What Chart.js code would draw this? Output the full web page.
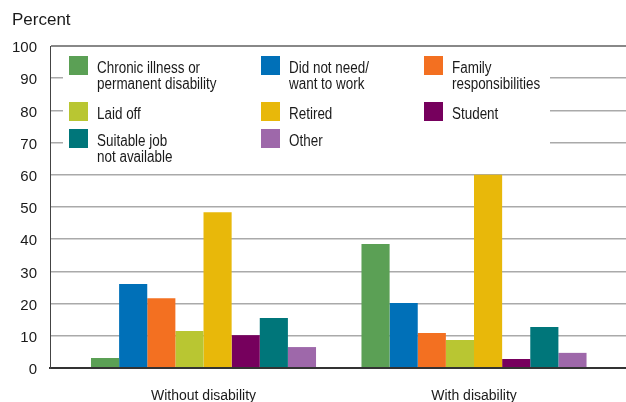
<!DOCTYPE html>
<html>
<head>
<meta charset="utf-8">
<script src="https://cdn.jsdelivr.net/npm/chart.js@4/dist/chart.umd.min.js"></script>
<style>
	html, body { margin: 0; padding: 0; background: #fff; }
	#wrap { position: relative; width: 626px; height: 402px; }
</style>
</head>
<body>
<div id="wrap"><canvas id="chart"></canvas></div>
<script>
const FONT = '"Liberation Sans", Arial, sans-serif';

// groups on the x axis
const categories = ['Without disability', 'With disability'];

// reasons (legend order, multi-line labels as arrays)
const seriesLabels = [
	['Chronic illness or', 'permanent disability'],
	['Did not need/', 'want to work'],
	['Family', 'responsibilities'],
	['Laid off'],
	['Retired'],
	['Student'],
	['Suitable job', 'not available'],
	['Other'],
];
const seriesColors = ['#5ba055', '#0070b8', '#f37021', '#b9c632', '#e8b80a', '#76005d', '#00767a', '#9e68aa'];

// percent, [without disability, with disability]
const chronicIllness = [3.1, 38.5];
const didNotNeed = [26.1, 20.2];
const family = [21.7, 10.9];
const laidOff = [11.5, 8.7];
const retired = [48.4, 60.0];
const student = [10.2, 2.8];
const suitableJob = [15.5, 12.7];
const other = [6.5, 4.7];

const seriesValues = [chronicIllness, didNotNeed, family, laidOff, retired, student, suitableJob, other];

const yTicks = [0, 10, 20, 30, 40, 50, 60, 70, 80, 90, 100];

// legend drawn inside the plot on a white panel, text squeezed to look condensed
const legendPanel = {
	id: 'legendPanel',
	beforeDatasetsDraw(chart) {
		let {ctx} = chart;
		let colX = [69, 261, 424];
		let textX = [97, 289, 452];
		let rowY = [56, 102, 129];
		let squeeze = 0.84;
		ctx.save();
		ctx.fillStyle = '#fff';
		ctx.fillRect(63, 49, 487, 108);
		ctx.font = '16px ' + FONT;
		ctx.textBaseline = 'alphabetic';
		ctx.textAlign = 'left';
		seriesLabels.forEach((lines, i) => {
			let col = i % 3;
			let row = Math.floor(i / 3);
			ctx.fillStyle = seriesColors[i];
			ctx.fillRect(colX[col], rowY[row], 19, 19);
			ctx.fillStyle = '#1a1a1a';
			lines.forEach((line, k) => {
				ctx.save();
				ctx.translate(textX[col], rowY[row] + 17 + k * 15.5);
				ctx.scale(squeeze, 1);
				ctx.fillText(line, 0, 0);
				ctx.restore();
			});
		});
		ctx.restore();
	},
};

new Chart(document.getElementById('chart'), {
	type: 'bar',
	data: {
		datasets: seriesLabels.map((label, i) => ({
			label: label.join(' '),
			data: seriesValues[i].map((v, j) => ({x: j, y: v})),
			backgroundColor: seriesColors[i],
			borderWidth: 0,
			categoryPercentage: 0.832,
			barPercentage: 1,
		})),
	},
	options: {
		responsive: true,
		maintainAspectRatio: false,
		animation: false,
		layout: {padding: {left: 12, right: 0, top: 0, bottom: 0}},
		plugins: {
			legend: {display: false},
			tooltip: {enabled: false},
			title: {
				display: true,
				text: 'Percent',
				align: 'start',
				color: '#1a1a1a',
				font: {family: FONT, size: 17, weight: 'normal'},
				padding: {top: 10, bottom: 15.6},
			},
		},
		scales: {
			x: {
				type: 'linear',
				offset: false,
				bounds: 'data',
				min: -0.5675,
				max: 1.5619,
				afterBuildTicks(scale) {
					scale.ticks = categories.map((c, i) => ({value: i}));
				},
				afterFit(scale) {
					scale.height = 34;
				},
				grid: {display: false},
				border: {display: true, color: '#333', width: 2},
				ticks: {
					padding: 12,
					color: '#1a1a1a',
					font: {family: FONT, size: 14},
					callback: (v) => categories[v],
					maxRotation: 0,
					autoSkip: false,
				},
			},
			y: {
				min: 0,
				max: 100,
				afterBuildTicks(scale) {
					scale.ticks = yTicks.map((v) => ({value: v}));
				},
				afterFit(scale) {
					scale.width = 38;
				},
				grid: {
					drawTicks: false,
					color: (c) => c.tick.value === 0 ? '#333' : (c.tick.value === 100 ? '#888' : '#aaa'),
					lineWidth: (c) => c.tick.value === 0 || c.tick.value === 100 ? 2 : 1.5,
				},
				border: {display: true, color: '#444', width: 1},
				ticks: {
					padding: 13,
					labelOffset: 2,
					color: '#1a1a1a',
					font: {family: FONT, size: 15},
				},
			},
		},
	},
	plugins: [legendPanel],
});
</script>
</body>
</html>
